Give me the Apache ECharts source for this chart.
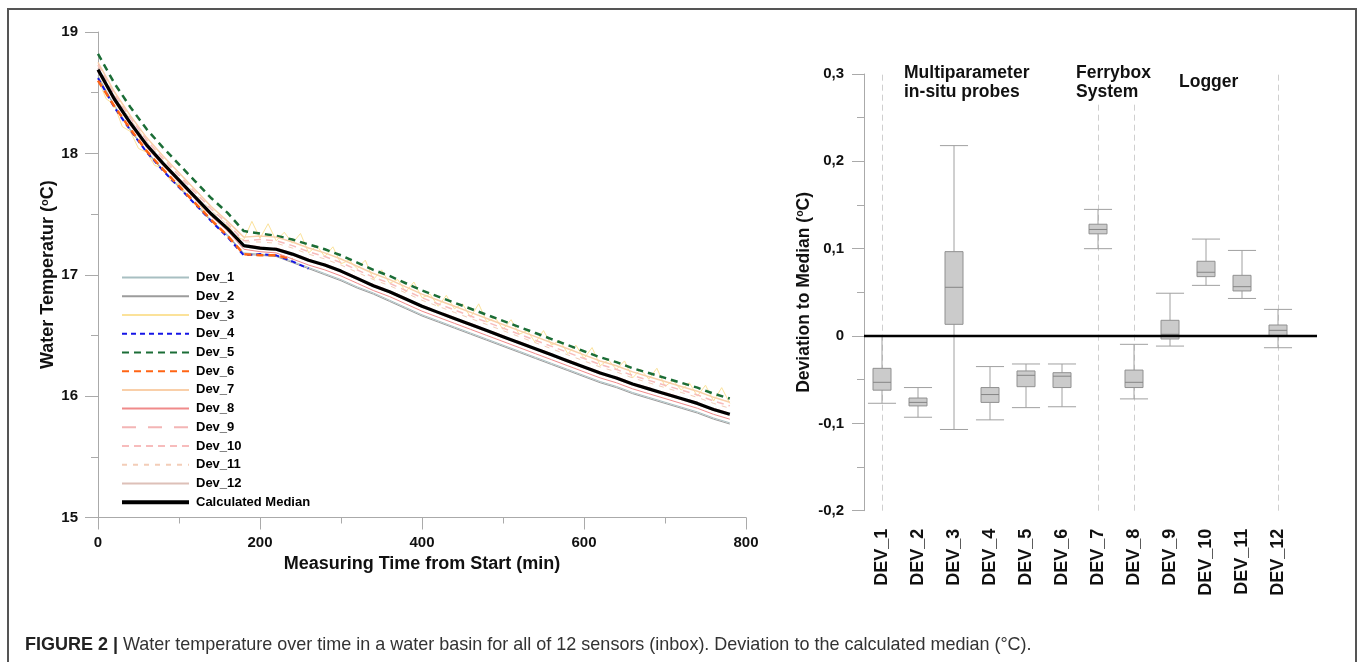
<!DOCTYPE html>
<html><head><meta charset="utf-8">
<script src="https://cdn.jsdelivr.net/npm/echarts@6/dist/echarts.min.js"></script>
<style>html,body{margin:0;padding:0;background:#fff}#c{width:1358px;height:662px}</style>
</head><body><div id="c"></div>
<script>
// ---------- DATA ----------
const TIME = [0,20,40,60,80,100,120,140,160,180,200,220,240,260,280,300,320,340,360,380,400,420,440,460,480,500,520,540,560,580,600,620,640,660,680,700,720,740,760,780];
const TIME_10 = [0,10,20,30,40,50,60,70,80,90,100,110,120,130,140,150,160,170,180,190,200,210,220,230,240,250,260,270,280,290,300,310,320,330,340,350,360,370,380,390,400,410,420,430,440,450,460,470,480,490,500,510,520,530,540,550,560,570,580,590,600,610,620,630,640,650,660,670,680,690,700,710,720,730,740,750,760,770,780];
const TIME_DEV4 = [0,20,40,60,80,100,120,140,160,180,200,220,240,260];
const TIME_DEV6 = [0,20,40,60,80,100,120,140,160,180,200,220,240];

const DEV_1 = [18.64,18.40,18.20,18.02,17.87,17.73,17.59,17.45,17.33,17.18,17.17,17.16,17.11,17.06,17.01,16.96,16.90,16.85,16.79,16.73,16.67,16.62,16.57,16.52,16.47,16.42,16.37,16.32,16.27,16.22,16.17,16.12,16.08,16.03,15.99,15.95,15.91,15.87,15.82,15.78];
const DEV_2 = [18.63,18.39,18.19,18.01,17.86,17.72,17.58,17.44,17.32,17.17,17.16,17.15,17.10,17.05,17.00,16.95,16.89,16.84,16.78,16.72,16.66,16.61,16.56,16.51,16.46,16.41,16.36,16.31,16.26,16.21,16.16,16.11,16.07,16.02,15.98,15.94,15.90,15.86,15.81,15.77];
const DEV_3 = [18.61,18.45,18.40,18.22,18.18,18.04,18.01,17.90,17.88,17.77,17.75,17.66,17.64,17.53,17.51,17.42,17.41,17.31,17.29,17.44,17.30,17.42,17.28,17.35,17.26,17.34,17.18,17.24,17.15,17.23,17.09,17.12,17.05,17.12,16.96,17.04,16.93,16.96,16.86,16.94,16.81,16.84,16.74,16.83,16.72,16.76,16.65,16.76,16.61,16.65,16.55,16.63,16.51,16.54,16.44,16.54,16.42,16.46,16.35,16.42,16.31,16.40,16.25,16.30,16.22,16.29,16.15,16.22,16.14,16.23,16.08,16.13,16.05,16.11,16.00,16.09,15.96,16.07,15.94];
const DEV_4 = [18.62,18.38,18.19,18.01,17.86,17.72,17.58,17.44,17.31,17.16,17.17,17.16,17.11,17.05];
const DEV_5 = [18.82,18.58,18.38,18.20,18.05,17.91,17.77,17.63,17.51,17.36,17.34,17.32,17.29,17.25,17.21,17.16,17.10,17.04,16.99,16.93,16.87,16.82,16.77,16.72,16.67,16.62,16.57,16.52,16.47,16.42,16.37,16.32,16.28,16.23,16.19,16.15,16.11,16.07,16.02,15.98];
const DEV_6 = [18.60,18.39,18.20,18.02,17.87,17.73,17.59,17.45,17.32,17.17,17.16,17.16,17.13];
const DEV_7 = [18.75,18.51,18.31,18.13,17.98,17.84,17.70,17.56,17.44,17.31,17.32,17.31,17.27,17.22,17.18,17.13,17.07,17.01,16.96,16.90,16.84,16.79,16.74,16.69,16.64,16.59,16.54,16.49,16.44,16.39,16.34,16.29,16.25,16.20,16.16,16.12,16.08,16.04,15.99,15.95];
const DEV_8 = [18.67,18.43,18.23,18.05,17.90,17.76,17.62,17.48,17.36,17.21,17.19,17.18,17.13,17.08,17.04,16.99,16.93,16.87,16.82,16.76,16.70,16.65,16.60,16.55,16.50,16.45,16.40,16.35,16.30,16.25,16.20,16.15,16.11,16.06,16.02,15.98,15.94,15.90,15.85,15.81];
const DEV_9 = [18.70,18.46,18.26,18.08,17.93,17.79,17.65,17.51,17.39,17.25,17.23,17.22,17.18,17.13,17.09,17.04,16.98,16.92,16.87,16.81,16.75,16.70,16.65,16.60,16.55,16.50,16.45,16.40,16.35,16.30,16.25,16.20,16.16,16.11,16.07,16.03,15.99,15.95,15.90,15.86];
const DEV_10 = [18.73,18.49,18.29,18.11,17.96,17.82,17.68,17.54,17.42,17.28,17.29,17.28,17.24,17.19,17.15,17.10,17.04,16.98,16.93,16.87,16.81,16.76,16.71,16.66,16.61,16.56,16.51,16.46,16.41,16.36,16.31,16.26,16.22,16.17,16.13,16.09,16.05,16.01,15.96,15.92];
const DEV_11 = [18.72,18.48,18.28,18.10,17.95,17.81,17.67,17.53,17.41,17.27,17.27,17.26,17.22,17.17,17.13,17.08,17.02,16.96,16.91,16.85,16.79,16.74,16.69,16.64,16.59,16.54,16.49,16.44,16.39,16.34,16.29,16.24,16.20,16.15,16.11,16.07,16.03,15.99,15.94,15.90];
const DEV_12 = [18.68,18.44,18.24,18.06,17.91,17.77,17.63,17.49,17.37,17.23,17.21,17.20,17.16,17.11,17.07,17.02,16.96,16.90,16.85,16.79,16.73,16.68,16.63,16.58,16.53,16.48,16.43,16.38,16.33,16.28,16.23,16.18,16.14,16.09,16.05,16.01,15.97,15.93,15.88,15.84];
const MEDIAN = [18.69,18.45,18.25,18.07,17.92,17.78,17.64,17.50,17.38,17.24,17.22,17.21,17.17,17.12,17.08,17.03,16.97,16.91,16.86,16.80,16.74,16.69,16.64,16.59,16.54,16.49,16.44,16.39,16.34,16.29,16.24,16.19,16.15,16.10,16.06,16.02,15.98,15.94,15.89,15.85];

const BOX_CATEGORIES = ['DEV_1','DEV_2','DEV_3','DEV_4','DEV_5','DEV_6','DEV_7','DEV_8','DEV_9','DEV_10','DEV_11','DEV_12'];
const BOX_LOW  = [-0.077,-0.093,-0.107,-0.096,-0.082,-0.081,0.100,-0.072,-0.0115,0.058,0.043,-0.0134];
const BOX_Q1   = [-0.062,-0.080,0.0134,-0.076,-0.058,-0.059,0.117,-0.059,-0.0034,0.068,0.0516,0.0004];
const BOX_MED  = [-0.053,-0.076,0.0558,-0.067,-0.045,-0.046,0.122,-0.053,0.002,0.073,0.0565,0.0065];
const BOX_Q3   = [-0.037,-0.071,0.0966,-0.059,-0.040,-0.042,0.128,-0.039,0.018,0.0856,0.0695,0.0126];
const BOX_HIGH = [0.000,-0.059,0.218,-0.035,-0.032,-0.032,0.145,-0.0095,0.049,0.111,0.098,0.0305];
const SEPARATORS = ['DEV_1','DEV_7','DEV_8','DEV_12'];
const ZERO_LINE = [0, 0];

// ---------- CHART ----------
const FONT = 'Liberation Sans, Arial, Helvetica, sans-serif';
const pairs = (t, v) => v.map((y, i) => [t[i], y]);

const lineDefs = [
  {name:'Dev_1', t:TIME, v:DEV_1, color:'#a8bfc2', width:1, type:'solid'},
  {name:'Dev_2', t:TIME, v:DEV_2, color:'#9c9c9c', width:1, type:'solid'},
  {name:'Dev_3', t:TIME_10, v:DEV_3, color:'#fbe29a', width:1, type:'solid'},
  {name:'Dev_4', t:TIME_DEV4, v:DEV_4, color:'#1515e6', width:2, type:[5,4]},
  {name:'Dev_5', t:TIME, v:DEV_5, color:'#1b6d36', width:2.5, type:[7,5]},
  {name:'Dev_6', t:TIME_DEV6, v:DEV_6, color:'#ff6414', width:2.5, type:[7,5]},
  {name:'Dev_7', t:TIME, v:DEV_7, color:'#f9cfa9', width:1.5, type:'solid'},
  {name:'Dev_8', t:TIME, v:DEV_8, color:'#f08a8a', width:1, type:'solid'},
  {name:'Dev_9', t:TIME, v:DEV_9, color:'#f3b5b5', width:1, type:[14,12]},
  {name:'Dev_10', t:TIME, v:DEV_10, color:'#f7bcbc', width:1.5, type:[7,5]},
  {name:'Dev_11', t:TIME, v:DEV_11, color:'#f3cdb8', width:1, type:[5,6]},
  {name:'Dev_12', t:TIME, v:DEV_12, color:'#ddc0b8', width:1, type:'solid'},
  {name:'Calculated Median', t:TIME, v:MEDIAN, color:'#000000', width:3.2, type:'solid'}
];

const lineSeries = lineDefs.map((d, i) => ({
  type:'line', name:d.name, xAxisIndex:0, yAxisIndex:0,
  data: pairs(d.t, d.v), symbol:'none', showSymbol:false, z: 2 + i,
  lineStyle:{color:d.color, width:d.width, type:d.type},
  itemStyle:{color:d.color}
}));

function renderBox(params, api){
  const x = api.value(0);
  const lo = api.coord([x, api.value(1)]);
  const q1 = api.coord([x, api.value(2)]);
  const md = api.coord([x, api.value(3)]);
  const q3 = api.coord([x, api.value(4)]);
  const hi = api.coord([x, api.value(5)]);
  const bw = api.size([1, 0])[0];
  const boxW = bw * 0.5, capW = bw * 0.78;
  const cx = lo[0];
  const ws = {stroke:'#a0a0a0', lineWidth:1};
  return {type:'group', children:[
    {type:'line', shape:{x1:cx, y1:hi[1], x2:cx, y2:q3[1]}, style:ws},
    {type:'line', shape:{x1:cx, y1:q1[1], x2:cx, y2:lo[1]}, style:ws},
    {type:'line', shape:{x1:cx-capW/2, y1:hi[1], x2:cx+capW/2, y2:hi[1]}, style:ws},
    {type:'line', shape:{x1:cx-capW/2, y1:lo[1], x2:cx+capW/2, y2:lo[1]}, style:ws},
    {type:'rect', shape:{x:cx-boxW/2, y:q3[1], width:boxW, height:q1[1]-q3[1]}, style:{fill:'#cbcbcb', stroke:'#909090', lineWidth:1}},
    {type:'line', shape:{x1:cx-boxW/2, y1:md[1], x2:cx+boxW/2, y2:md[1]}, style:{stroke:'#858585', lineWidth:1}}
  ]};
}

const boxData = BOX_CATEGORIES.map((c, i) => [i, BOX_LOW[i], BOX_Q1[i], BOX_MED[i], BOX_Q3[i], BOX_HIGH[i]]);

const axisGray = '#aaaaaa';
const commaFmt = v => Math.abs(v) < 1e-9 ? '0' : v.toFixed(1).replace('.', ',');

const option = {
  animation:false,
  backgroundColor:'#fff',
  textStyle:{fontFamily:FONT},
  legend:{
    data: lineDefs.map(d => d.name === 'Calculated Median' ? {name:d.name, lineStyle:{width:4}} : d.name),
    orient:'vertical', left:115, top:266,
    itemWidth:67, itemHeight:14, itemGap:5.73,
    itemStyle:{opacity:0},
    textStyle:{fontFamily:FONT, fontWeight:'bold', fontSize:13, color:'#000', padding:[0,0,0,2]},
    selectedMode:false
  },
  grid:[
    {left:98, right:612, top:32, bottom:144.5},
    {left:864, right:62, top:74, bottom:151.3},
    {left:864, right:41, top:74, bottom:151.3}
  ],
  xAxis:[
    {gridIndex:0, type:'value', min:0, max:800, interval:200,
     axisLine:{lineStyle:{color:axisGray}}, axisTick:{length:12, lineStyle:{color:axisGray}},
     minorTick:{show:true, splitNumber:2, length:6, lineStyle:{color:axisGray}},
     splitLine:{show:false},
     axisLabel:{fontFamily:FONT, fontWeight:'bold', fontSize:15, color:'#111', margin:18},
     name:'Measuring Time from Start (min)', nameLocation:'middle', nameGap:38,
     nameTextStyle:{fontFamily:FONT, fontWeight:'bold', fontSize:18, color:'#111'}},
    {gridIndex:1, type:'category', data:BOX_CATEGORIES, boundaryGap:true,
     axisLine:{lineStyle:{color:axisGray}}, axisTick:{alignWithLabel:true, length:12, lineStyle:{color:axisGray}},
     axisLabel:{rotate:90, fontFamily:FONT, fontWeight:'bold', fontSize:18, color:'#111', margin:18, interval:0},
     splitLine:{show:false}},
    {gridIndex:2, type:'value', min:0, max:1, show:false}
  ],
  yAxis:[
    {gridIndex:0, type:'value', min:15, max:19, interval:1,
     axisLine:{show:true, lineStyle:{color:axisGray}}, axisTick:{show:true, length:13, lineStyle:{color:axisGray}},
     minorTick:{show:true, splitNumber:2, length:7, lineStyle:{color:axisGray}},
     splitLine:{show:false},
     axisLabel:{fontFamily:FONT, fontWeight:'bold', fontSize:15, color:'#111', margin:20},
     name:'Water Temperatur ({s|o}C)', nameLocation:'middle', nameGap:40,
     nameTextStyle:{fontFamily:FONT, fontWeight:'bold', fontSize:18, color:'#111',
       rich:{s:{fontFamily:FONT, fontWeight:'bold', fontSize:11, color:'#111', verticalAlign:'top', lineHeight:18}}}},
    {gridIndex:1, type:'value', min:-0.2, max:0.3, interval:0.1,
     axisLine:{show:true, lineStyle:{color:axisGray}}, axisTick:{show:true, length:12, lineStyle:{color:axisGray}},
     minorTick:{show:true, splitNumber:2, length:7, lineStyle:{color:axisGray}},
     splitLine:{show:false},
     axisLabel:{fontFamily:FONT, fontWeight:'bold', fontSize:15, color:'#111', margin:20, formatter:commaFmt},
     name:'Deviation to Median ({s|o}C)', nameLocation:'middle', nameGap:51,
     nameTextStyle:{fontFamily:FONT, fontWeight:'bold', fontSize:17.5, color:'#111',
       rich:{s:{fontFamily:FONT, fontWeight:'bold', fontSize:10.5, color:'#111', verticalAlign:'top', lineHeight:17.5}}}},
    {gridIndex:2, type:'value', min:-0.2, max:0.3, show:false}
  ],
  series:[
    ...lineSeries,
    {type:'custom', name:'box', xAxisIndex:1, yAxisIndex:1, renderItem:renderBox,
     data:boxData, encode:{x:0, y:[1,2,3,4,5]}, z:5,
     markLine:{silent:true, symbol:'none', label:{show:false},
       lineStyle:{color:'#cfcfcf', type:[6,4], width:1},
       data: SEPARATORS.map(c => ({xAxis:c}))}},
    {type:'line', name:'zero', xAxisIndex:2, yAxisIndex:2, data:[[0, ZERO_LINE[0]], [1, ZERO_LINE[1]]],
     symbol:'none', lineStyle:{color:'#000', width:2.5}, z:10}
  ],
  graphic:[
    {type:'rect', shape:{x:8, y:9, width:1348, height:720}, style:{fill:'none', stroke:'#555', lineWidth:2}, silent:true},
    {type:'text', x:904, y:63, z:20, style:{text:'Multiparameter\nin-situ probes', font:'bold 17.5px ' + FONT, fill:'#111', lineHeight:19.5}},
    {type:'text', x:1076, y:63, z:20, style:{text:'Ferrybox\nSystem', font:'bold 17.5px ' + FONT, fill:'#111', lineHeight:19.5, backgroundColor:'#fff'}},
    {type:'text', x:1179, y:73, z:20, style:{text:'Logger', font:'bold 17.5px ' + FONT, fill:'#111'}},
    {type:'text', x:25, y:645, scaleX:0.947, z:20, style:{
      text:'{b|FIGURE 2 |} Water temperature over time in a water basin for all of 12 sensors (inbox). Deviation to the calculated median (°C).',
      fontFamily:FONT, fontSize:19, fill:'#333', verticalAlign:'middle',
      rich:{b:{fontFamily:FONT, fontSize:19, fontWeight:'bold', fill:'#222'}}}}
  ]
};

const chart = echarts.init(document.getElementById('c'), null, {renderer:'canvas'});
chart.setOption(option);
</script></body></html>
